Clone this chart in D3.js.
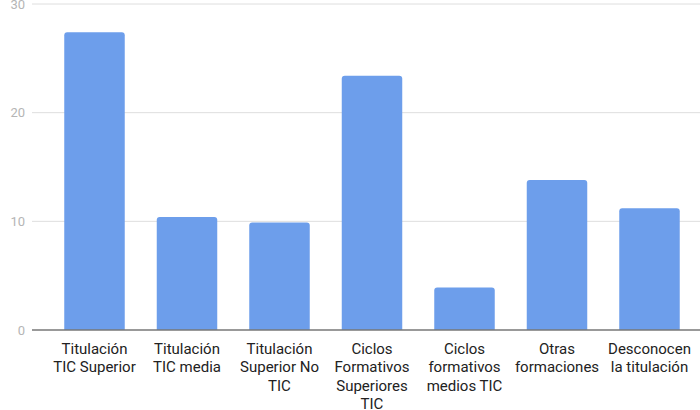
<!DOCTYPE html>
<html>
<head>
<meta charset="utf-8">
<script src="https://cdn.jsdelivr.net/npm/d3@7"></script>
<style>
  html, body { margin: 0; padding: 0; background: #fff; }
  svg { display: block; font-family: Roboto, "Noto Sans", Arial, sans-serif; }
</style>
</head>
<body>
<svg id="chart" width="700" height="410"></svg>
<script>
// Categories (full names) and the way each label is broken into lines
const categories = [
  "Titulación TIC Superior",
  "Titulación TIC media",
  "Titulación Superior No TIC",
  "Ciclos Formativos Superiores TIC",
  "Ciclos formativos medios TIC",
  "Otras formaciones",
  "Desconocen la titulación"
];
const labelLines = [
  ["Titulación", "TIC Superior"],
  ["Titulación", "TIC media"],
  ["Titulación", "Superior No", "TIC"],
  ["Ciclos", "Formativos", "Superiores", "TIC"],
  ["Ciclos", "formativos", "medios TIC"],
  ["Otras", "formaciones"],
  ["Desconocen", "la titulación"]
];
const values = [27.4, 10.4, 9.9, 23.4, 3.9, 13.8, 11.2];
const yTicks = [0, 10, 20, 30];

const svg = d3.select("#chart");

const x = d3.scaleBand()
  .domain(categories)
  .range([48.25, 695.75])
  .paddingInner(0.346)
  .paddingOuter(0.173);

const y = d3.scaleLinear()
  .domain([0, 30])
  .range([330, 4]);

// Horizontal gridlines
svg.append("g")
  .selectAll("line")
  .data(yTicks.filter(d => d !== 0))
  .join("line")
  .attr("x1", 32).attr("x2", 700)
  .attr("y1", d => y(d)).attr("y2", d => y(d))
  .attr("stroke", "#dedede")
  .attr("stroke-width", 1);

// Y tick labels
svg.append("g")
  .selectAll("text")
  .data(yTicks)
  .join("text")
  .attr("x", 25)
  .attr("y", d => y(d))
  .attr("dy", "0.35em")
  .attr("text-anchor", "end")
  .attr("font-size", 13)
  .attr("fill", "#b5b5b5")
  .text(d => d);

// Bars with slightly rounded top corners
function barPath(x0, w, yTop, yBase, r) {
  r = Math.min(r, w / 2, (yBase - yTop) / 2);
  return `M${x0},${yBase}V${yTop + r}Q${x0},${yTop} ${x0 + r},${yTop}` +
         `H${x0 + w - r}Q${x0 + w},${yTop} ${x0 + w},${yTop + r}V${yBase}Z`;
}

svg.append("g")
  .selectAll("path")
  .data(categories.map((c, i) => ({ c, v: values[i] })))
  .join("path")
  .attr("d", d => barPath(x(d.c), x.bandwidth(), y(d.v), y(0), 3))
  .attr("fill", "#6d9eeb");

// Baseline
svg.append("line")
  .attr("x1", 32).attr("x2", 700)
  .attr("y1", y(0)).attr("y2", y(0))
  .attr("stroke", "#777")
  .attr("stroke-width", 1.5);

// Category labels
const lab = svg.append("g")
  .selectAll("text")
  .data(categories.map((c, i) => ({ c, lines: labelLines[i] })))
  .join("text")
  .attr("text-anchor", "middle")
  .attr("font-size", 15)
  .attr("fill", "#222");

lab.selectAll("tspan")
  .data(d => d.lines.map((t, i) => ({ t, i, c: d.c })))
  .join("tspan")
  .attr("x", d => x(d.c) + x.bandwidth() / 2)
  .attr("y", d => 353.5 + d.i * 18.5)
  .text(d => d.t);
</script>
</body>
</html>
